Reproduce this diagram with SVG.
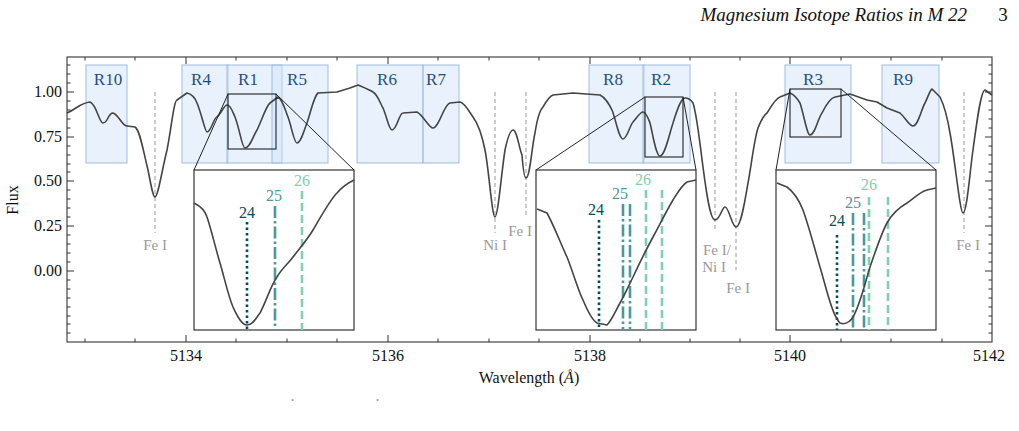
<svg xmlns="http://www.w3.org/2000/svg" width="1019" height="431" viewBox="0 0 1019 431">
<style>
text{font-family:"Liberation Serif","DejaVu Serif",serif}
.reg{fill:#cfe3f8;fill-opacity:0.45;stroke:#9dbedd;stroke-width:1}
.rl{font-size:17px;fill:#1f4e85;text-anchor:middle}
.spec{fill:none;stroke:#444;stroke-width:1.6;stroke-linejoin:round}
.el{stroke:#999;stroke-width:1;stroke-dasharray:4,3}
.elt{font-size:15px;fill:#999;text-anchor:middle}
.box{fill:none;stroke:#222;stroke-width:1.1}
.ins{fill:#fff;stroke:#222;stroke-width:1.1}
.m24{stroke:#00504f;stroke-width:2.6;stroke-dasharray:2.5,3}
.m25{stroke:#4a9a9a;stroke-width:2.6;stroke-dasharray:12,3,2.5,3}
.m26{stroke:#80cfb0;stroke-width:2.6;stroke-dasharray:8,4}
.tk{stroke:#333;stroke-width:1}
.tl{font-size:16px;fill:#111;text-anchor:middle}
.iso{font-size:16px;text-anchor:middle}
</style>
<text x="967" y="21" font-size="19" font-style="italic" text-anchor="end" fill="#111">Magnesium Isotope Ratios in M 22</text>
<text x="1003" y="21" font-size="19" text-anchor="middle" fill="#111">3</text>
<g id="regions">
<rect class="reg" x="86" y="65" width="41" height="98"/>
<rect class="reg" x="182" y="65" width="46" height="98"/>
<rect class="reg" x="227" y="65" width="55" height="98"/>
<rect class="reg" x="272" y="65" width="56" height="98"/>
<rect class="reg" x="357" y="65" width="66" height="98"/>
<rect class="reg" x="423" y="65" width="36" height="98"/>
<rect class="reg" x="589" y="65" width="55" height="98"/>
<rect class="reg" x="643" y="65" width="47" height="98"/>
<rect class="reg" x="785" y="65" width="66" height="98"/>
<rect class="reg" x="882" y="65" width="57" height="98"/>
<text class="rl" x="108" y="85">R10</text><text class="rl" x="201" y="85">R4</text>
<text class="rl" x="248" y="85">R1</text><text class="rl" x="297" y="85">R5</text>
<text class="rl" x="387" y="85">R6</text><text class="rl" x="436" y="85">R7</text>
<text class="rl" x="613" y="85">R8</text><text class="rl" x="661" y="85">R2</text>
<text class="rl" x="813" y="85">R3</text><text class="rl" x="903" y="85">R9</text>
</g>
<g id="lines">
<line class="el" x1="155" y1="92" x2="155" y2="233"/><text class="elt" x="155" y="250">Fe I</text>
<line class="el" x1="495" y1="92" x2="495" y2="233"/><text class="elt" x="495" y="250">Ni I</text>
<line class="el" x1="526" y1="92" x2="526" y2="217"/><text class="elt" x="520" y="236">Fe I</text>
<line class="el" x1="715" y1="92" x2="715" y2="230"/><text class="elt" x="717" y="255">Fe I/</text><text class="elt" x="714" y="272">Ni I</text>
<line class="el" x1="736" y1="92" x2="736" y2="270"/><text class="elt" x="738" y="293">Fe I</text>
<line class="el" x1="964" y1="92" x2="964" y2="233"/><text class="elt" x="968" y="250">Fe I</text>
</g>
<path id="spectrum" class="spec" d="M67,113 C75,110 80,103 90,102 C97,105 99,123 103,123 C108,123 108,113 113,113 C119,115 122,126 127,126 L135,127 C140,130 143,150 148,170 C151,185 153,197 155,197 C158,197 162,170 167,150 C171,130 174,100 177,100 L187,93 C192,94 195,98 197,103 C202,115 205,132 207,132 C211,132 214,117 217,117 C221,114 224,105 227,105 C231,105 233,113 235,117 C240,130 242,148 245,148 C250,148 253,136 257,130 C262,120 266,106 270,103 L278,97 C283,100 285,110 288,117 C292,128 294,143 297,143 C301,143 304,130 307,123 C311,111 314,96 318,93 L337,92 L350,88 L358,85 C365,88 370,90 373,92 C378,95 380,103 383,108 C387,117 389,130 392,130 C397,130 399,113 403,113 L417,112 C423,115 429,128 433,128 C439,128 444,104 450,103 L460,102 C465,103 470,113 473,117 C479,125 482,135 485,150 C489,170 492,217 495,217 C498,217 502,168 505,150 C508,136 511,130 513,130 C517,130 519,148 522,155 C523,168 524,178 526,178 C530,178 532,145 535,133 C537,120 540,110 543,107 C547,100 550,96 553,95 L573,93 L600,95 C606,98 609,104 612,110 C616,120 619,139 623,139 C627,139 630,125 633,122 C637,118 640,112 643,112 C646,112 648,118 650,123 C653,135 656,156 660,156 C665,156 669,135 673,123 C677,110 681,98 685,98 C689,98 691,100 693,103 C697,115 700,145 703,167 C706,190 710,220 715,220 C720,220 722,207 725,207 C729,207 732,227 736,227 C741,227 745,200 748,183 C751,168 754,140 758,128 C762,118 764,115 767,113 C772,105 776,98 780,97 L790,93 C795,95 797,98 800,103 C804,115 807,135 810,135 C815,135 818,118 822,113 C826,105 830,98 835,97 L850,94 L867,100 L877,102 L887,108 L900,113 C906,118 909,126 913,126 C918,126 921,110 925,103 C928,97 930,90 932,89 C935,92 937,94 940,97 C944,105 947,115 950,133 C955,160 960,213 963,213 C967,213 970,170 973,150 C977,120 981,90 985,90 L992,95"/>
<g id="zoomboxes">
<rect class="box" x="228" y="94" width="48" height="55"/>
<rect class="box" x="645" y="97" width="38" height="60"/>
<rect class="box" x="790" y="89" width="51" height="48"/>
</g>
<g id="connectors" stroke="#222" stroke-width="1">
<line x1="228" y1="94" x2="194" y2="170"/><line x1="276" y1="94" x2="354" y2="170"/>
<line x1="645" y1="97" x2="536" y2="170"/><line x1="683" y1="97" x2="696" y2="170"/>
<line x1="790" y1="89" x2="776" y2="170"/><line x1="841" y1="89" x2="936" y2="170"/>
</g>
<g id="inset1">
<rect class="ins" x="194" y="170" width="160" height="160"/>
<line class="m24" x1="247" y1="222" x2="247" y2="330"/>
<line class="m25" x1="275" y1="206" x2="275" y2="330"/>
<line class="m26" x1="302" y1="191" x2="302" y2="330"/>
<path class="spec" d="M194,203 C200,206 205,210 207,217 C212,232 216,250 220,263 C225,280 228,295 233,307 C238,318 242,325 247,325 C253,325 256,318 260,313 C266,302 271,285 277,277 C282,268 288,264 293,257 C300,248 307,240 313,230 C320,218 330,200 337,193 C342,187 348,183 354,180"/>
<text class="iso" x="247" y="218" fill="#00504f">24</text>
<text class="iso" x="274" y="201" fill="#4a9a9a">25</text>
<text class="iso" x="302" y="186" fill="#80cfb0">26</text>
</g>
<g id="inset2">
<rect class="ins" x="536" y="170" width="160" height="160"/>
<line class="m24" x1="599" y1="220" x2="599" y2="330"/>
<line class="m25" x1="623" y1="204" x2="623" y2="330"/>
<line class="m25" x1="630" y1="204" x2="630" y2="330"/>
<line class="m26" x1="646" y1="190" x2="646" y2="330"/>
<line class="m26" x1="662" y1="190" x2="662" y2="330"/>
<path class="spec" d="M537,209 L547,213 C555,228 560,242 567,257 C573,272 578,290 583,300 C588,312 592,320 597,323 L607,325 C612,320 616,310 620,303 C625,294 629,285 633,277 C640,262 646,250 653,237 C660,224 667,210 673,200 C678,192 682,185 687,182 L696,180"/>
<text class="iso" x="596" y="215" fill="#00504f">24</text>
<text class="iso" x="620" y="199" fill="#4a9a9a">25</text>
<text class="iso" x="643" y="185" fill="#80cfb0">26</text>
</g>
<g id="inset3">
<rect class="ins" x="776" y="170" width="160" height="160"/>
<line class="m24" x1="837" y1="235" x2="837" y2="330"/>
<line class="m25" x1="853" y1="213" x2="853" y2="330"/>
<line class="m25" x1="864" y1="213" x2="864" y2="330"/>
<line class="m26" x1="869" y1="197" x2="869" y2="330"/>
<line class="m26" x1="888" y1="197" x2="888" y2="330"/>
<path class="spec" d="M777,183 L787,187 C795,193 799,200 803,210 C810,230 815,250 820,267 C826,287 832,315 840,323 C845,325 850,322 853,317 C860,305 865,283 870,267 C876,250 881,234 887,223 C893,212 900,207 907,203 C914,198 920,192 927,190 L936,188"/>
<text class="iso" x="837" y="226" fill="#00504f">24</text>
<text class="iso" x="853" y="208" fill="#4a9a9a">25</text>
<text class="iso" x="869" y="190" fill="#80cfb0">26</text>
</g>
<g id="axes">
<rect x="67" y="57" width="925" height="285" fill="none" stroke="#333" stroke-width="1.1"/>
<g class="tk">
<path d="M186,342v-7M388,342v-7M590,342v-7M790,342v-7M186,57v7M388,57v7M590,57v7M790,57v7"/>
<path d="M85,342v-3.5M135,342v-3.5M236,342v-3.5M287,342v-3.5M337,342v-3.5M438,342v-3.5M489,342v-3.5M539,342v-3.5M640,342v-3.5M690,342v-3.5M740,342v-3.5M841,342v-3.5M891,342v-3.5M942,342v-3.5M85,57v3.5M135,57v3.5M236,57v3.5M287,57v3.5M337,57v3.5M438,57v3.5M489,57v3.5M539,57v3.5M640,57v3.5M690,57v3.5M740,57v3.5M841,57v3.5M891,57v3.5M942,57v3.5"/>
<path d="M67,92h7M67,137h7M67,181h7M67,226h7M67,271h7M992,92h-7M992,137h-7M992,181h-7M992,226h-7M992,271h-7"/>
<path d="M67,65h3.5M67,74h3.5M67,83h3.5M67,101h3.5M67,110h3.5M67,119h3.5M67,128h3.5M67,146h3.5M67,155h3.5M67,164h3.5M67,172h3.5M67,190h3.5M67,199h3.5M67,208h3.5M67,217h3.5M67,235h3.5M67,244h3.5M67,253h3.5M67,262h3.5M67,280h3.5M67,289h3.5M67,298h3.5M67,307h3.5M67,316h3.5M67,324h3.5M67,333h3.5M992,65h-3.5M992,74h-3.5M992,83h-3.5M992,101h-3.5M992,110h-3.5M992,119h-3.5M992,128h-3.5M992,146h-3.5M992,155h-3.5M992,164h-3.5M992,172h-3.5M992,190h-3.5M992,199h-3.5M992,208h-3.5M992,217h-3.5M992,235h-3.5M992,244h-3.5M992,253h-3.5M992,262h-3.5M992,280h-3.5M992,289h-3.5M992,298h-3.5M992,307h-3.5M992,316h-3.5M992,324h-3.5M992,333h-3.5"/>
</g>
<text class="tl" x="186" y="361">5134</text><text class="tl" x="388" y="361">5136</text>
<text class="tl" x="590" y="361">5138</text><text class="tl" x="790" y="361">5140</text><text class="tl" x="989" y="361">5142</text>
<g font-size="16" fill="#111" text-anchor="end">
<text x="62" y="97">1.00</text><text x="62" y="142">0.75</text><text x="62" y="186">0.50</text><text x="62" y="231">0.25</text><text x="62" y="276">0.00</text>
</g>
<text x="529" y="383" font-size="16" fill="#111" text-anchor="middle">Wavelength (<tspan font-style="italic">Å</tspan>)</text>
<text x="0" y="0" font-size="16" fill="#111" text-anchor="middle" transform="translate(18,200) rotate(-90)">Flux</text>
<text x="291" y="405" font-size="9" fill="#333">˚</text><text x="376" y="405" font-size="9" fill="#333">˚</text>
</g>
</svg>
